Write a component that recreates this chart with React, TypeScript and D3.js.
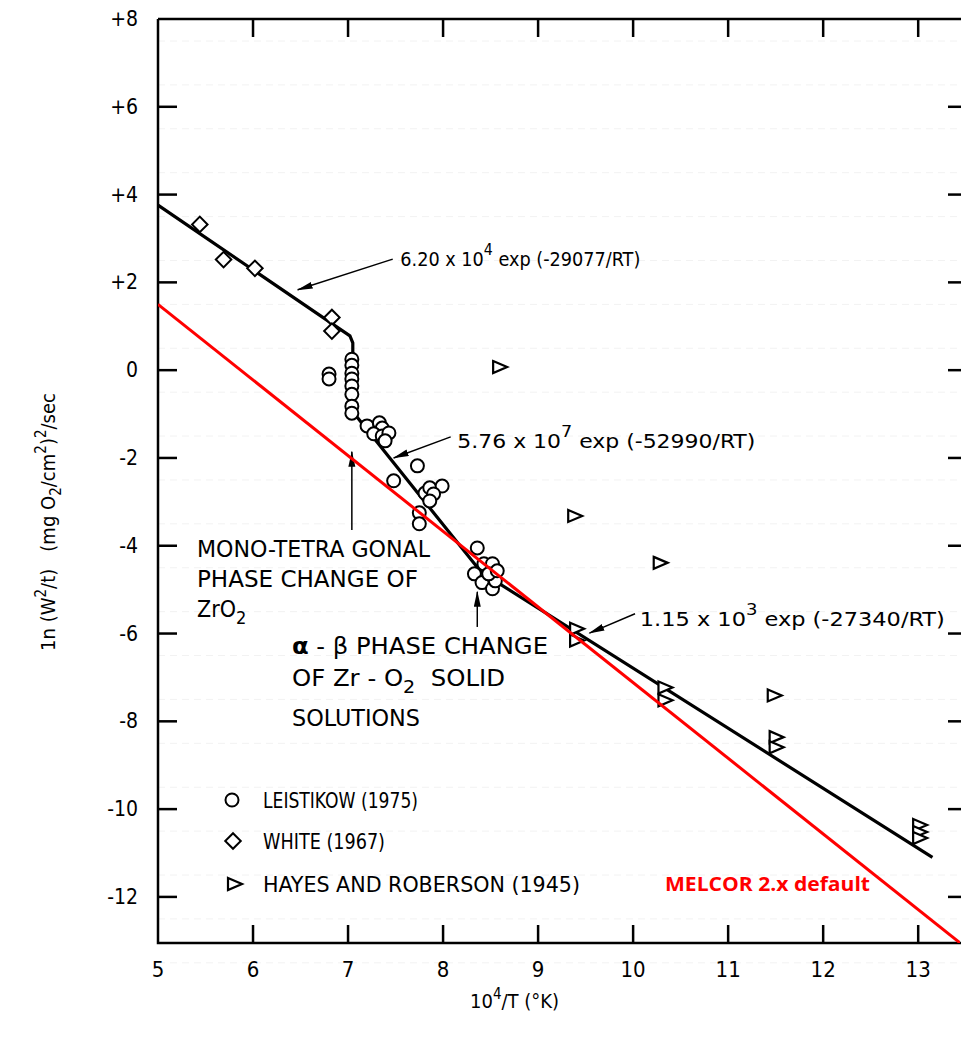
import React from 'react';
import * as d3 from 'd3';

// Leistikow (1975) - circles
const leistikowX = [6.8, 6.8, 7.04, 7.04, 7.04, 7.04, 7.04, 7.04, 7.04, 7.04,
  7.2, 7.33, 7.36, 7.27, 7.36, 7.43, 7.39, 7.73, 7.48, 7.81, 7.86, 7.99, 7.9, 7.86, 7.75, 7.75,
  8.36, 8.33, 8.43, 8.52, 8.41, 8.52, 8.55, 8.48, 8.57];
const leistikowY = [-0.09, -0.2, 0.25, 0.11, -0.07, -0.2, -0.36, -0.55, -0.82, -0.98,
  -1.27, -1.2, -1.32, -1.45, -1.5, -1.43, -1.61, -2.18, -2.52, -2.8, -2.68, -2.64, -2.82, -2.98, -3.25, -3.5,
  -4.05, -4.64, -4.41, -4.41, -4.84, -4.98, -4.8, -4.64, -4.57];

// White (1967) - diamonds
const whiteX = [5.44, 5.69, 6.02, 6.83, 6.83];
const whiteY = [3.32, 2.52, 2.32, 1.2, 0.89];

// Hayes and Roberson (1945) - triangles
const hayesX = [8.59, 9.38, 10.28, 9.4, 9.4, 10.33, 10.33, 11.48, 11.5, 11.5, 13.01, 13.01, 13.01];
const hayesY = [0.07, -3.32, -4.39, -5.89, -6.16, -7.23, -7.52, -7.41, -8.36, -8.59, -10.36, -10.52, -10.66];

// fitted correlation (black polyline) and MELCOR default (red)
const fitX = [5.0, 7.02, 7.05, 7.05, 8.4, 13.15];
const fitY = [3.76, 0.78, 0.62, -0.95, -4.6, -11.1];
const melcorX = [5.0, 13.5];
const melcorY = [1.5, -13.15];

const xTicks = [5, 6, 7, 8, 9, 10, 11, 12, 13];
const yTicks = [8, 6, 4, 2, 0, -2, -4, -6, -8, -10, -12];
const yTickLabels = ['+8', '+6', '+4', '+2', '0', '-2', '-4', '-6', '-8', '-10', '-12'];

const FONT = "'Liberation Sans Narrow', 'DejaVu Sans Condensed', 'DejaVu Sans', sans-serif";

const App = () => {
  const width = 961;
  const height = 1037;
  const left = 158, right = 960, top = 19, bottom = 943;

  const x = d3.scaleLinear().domain([5, 13.44]).range([left, right]);
  const y = d3.scaleLinear().domain([-13.05, 8]).range([bottom, top]);

  const line = d3.line<[number, number]>().x(d => x(d[0])).y(d => y(d[1]));
  const fitPts = fitX.map((v, i) => [v, fitY[i]] as [number, number]);
  const melcorPts = melcorX.map((v, i) => [v, melcorY[i]] as [number, number]);

  const diamond = d3.symbol(d3.symbolSquare, 120)();
  const tri = 'M-6,-6L8,0L-6,6Z';

  const grid = d3.range(-13, 9, 1);
  const fit = { lengthAdjust: 'spacingAndGlyphs' as const };

  return (
    <svg width={width} height={height} style={{ position: 'absolute', left: 0, top: 0, background: '#fff' }}
      fontFamily={FONT}>
      <defs>
        <clipPath id="plot-clip">
          <rect x={left} y={top} width={right - left} height={bottom - top} />
        </clipPath>
        <marker id="arrow" markerUnits="userSpaceOnUse" markerWidth="16" markerHeight="8"
          refX="15" refY="3.5" orient="auto">
          <path d="M0,0 L16,3.5 L0,7 Z" fill="#000" />
        </marker>
      </defs>

      {/* faint scan grid */}
      {grid.map(g => (
        <line key={'g' + g} x1={left} x2={right} y1={y(g) + 22} y2={y(g) + 22}
          stroke="#f2f2f2" strokeDasharray="7,5" />
      ))}

      {/* frame */}
      <path d={`M${left},${top} L${right + 2},${top} M${left},${top} L${left},${bottom} L${right + 2},${bottom}`}
        fill="none" stroke="#000" strokeWidth={2.5} />
      {xTicks.filter(t => t > 5).map(t => (
        <g key={'xt' + t}>
          <line x1={x(t)} x2={x(t)} y1={bottom} y2={bottom - 18} stroke="#000" strokeWidth={2.5} />
          <line x1={x(t)} x2={x(t)} y1={top} y2={top + 18} stroke="#000" strokeWidth={2.5} />
        </g>
      ))}
      {yTicks.filter(t => t < 8).map(t => (
        <g key={'yt' + t}>
          <line x1={left} x2={left + 19} y1={y(t)} y2={y(t)} stroke="#000" strokeWidth={2.5} />
          <line x1={right - 12} x2={right + 2} y1={y(t)} y2={y(t)} stroke="#000" strokeWidth={2.5} />
        </g>
      ))}

      {/* tick labels */}
      {xTicks.map(t => (
        <text key={'xl' + t} x={x(t)} y={977} textAnchor="middle" fontSize={22}>{t}</text>
      ))}
      {yTicks.map((t, i) => (
        <text key={'yl' + t} x={138} y={y(t) + 7} textAnchor="end" fontSize={21}>{yTickLabels[i]}</text>
      ))}

      {/* axis titles */}
      <text x={470} y={1008} fontSize={20}>
        10<tspan dy={-9} fontSize={15}>4</tspan><tspan dy={9}>/T (°K)</tspan>
      </text>
      <text transform="translate(55,522) rotate(-90)" textAnchor="middle" fontSize={20}>
        1n (W<tspan dy={-9} fontSize={15}>2</tspan><tspan dy={9}>/t)</tspan>
        <tspan>{'\u00a0\u00a0\u00a0'}(mg O</tspan><tspan dy={6} fontSize={15}>2</tspan>
        <tspan dy={-6}>/cm</tspan><tspan dy={-9} fontSize={15}>2</tspan><tspan dy={9}>)</tspan>
        <tspan dy={-9} fontSize={15}>2</tspan><tspan dy={9}>/sec</tspan>
      </text>

      {/* fitted correlation */}
      <path d={line(fitPts) || ''} fill="none" stroke="#000" strokeWidth={3.2} strokeLinejoin="round" />

      {/* data markers */}
      {whiteX.map((v, i) => (
        <path key={'w' + i} d={diamond} transform={`translate(${x(v)},${y(whiteY[i])}) rotate(45)`}
          fill="#fff" stroke="#000" strokeWidth={2} />
      ))}
      {leistikowX.map((v, i) => (
        <circle key={'l' + i} cx={x(v)} cy={y(leistikowY[i])} r={6.5} fill="#fff" stroke="#000" strokeWidth={2} />
      ))}
      {hayesX.map((v, i) => (
        <path key={'h' + i} d={tri} transform={`translate(${x(v)},${y(hayesY[i])})`}
          fill="#fff" stroke="#000" strokeWidth={2.2} strokeLinejoin="miter" />
      ))}

      {/* annotations */}
      <line x1={x(7.47)} y1={y(2.53)} x2={x(6.47)} y2={y(1.83)} stroke="#000" strokeWidth={1.5} markerEnd="url(#arrow)" />
      <text x={x(7.55)} y={y(2.37)} fontSize={20} textLength={240} {...fit}>
        6.20 x 10<tspan dy={-11} fontSize={16}>4</tspan><tspan dy={11}> exp (-29077/RT)</tspan>
      </text>
      <line x1={x(8.08)} y1={y(-1.52)} x2={x(7.48)} y2={y(-2.0)} stroke="#000" strokeWidth={1.5} markerEnd="url(#arrow)" />
      <text x={x(8.15)} y={y(-1.77)} fontSize={20} textLength={298} {...fit}>
        5.76 x 10<tspan dy={-11} fontSize={16}>7</tspan><tspan dy={11}> exp (-52990/RT)</tspan>
      </text>
      <line x1={x(10.02)} y1={y(-5.55)} x2={x(9.54)} y2={y(-5.99)} stroke="#000" strokeWidth={1.5} markerEnd="url(#arrow)" />
      <text x={x(10.07)} y={y(-5.83)} fontSize={20} textLength={305} {...fit}>
        1.15 x 10<tspan dy={-11} fontSize={16}>3</tspan><tspan dy={11}> exp (-27340/RT)</tspan>
      </text>

      <line x1={x(7.04)} y1={y(-3.64)} x2={x(7.04)} y2={y(-1.86)} stroke="#000" strokeWidth={1.5} markerEnd="url(#arrow)" />
      <text x={x(5.41)} y={y(-4.26)} fontSize={23} textLength={233} {...fit}>MONO-TETRA GONAL</text>
      <text x={x(5.41)} y={y(-4.94)} fontSize={23} textLength={221} {...fit}>PHASE CHANGE OF</text>
      <text x={x(5.41)} y={y(-5.62)} fontSize={23}>
        ZrO<tspan dy={7} fontSize={18}>2</tspan>
      </text>

      <line x1={x(8.36)} y1={y(-5.85)} x2={x(8.36)} y2={y(-5.05)} stroke="#000" strokeWidth={1.5} markerEnd="url(#arrow)" />
      <text x={x(6.41)} y={y(-6.46)} fontSize={23} textLength={256} {...fit}>
        <tspan fontWeight="bold">α</tspan> - β PHASE CHANGE
      </text>
      <text x={x(6.41)} y={y(-7.19)} fontSize={23} textLength={213} {...fit}>
        OF Zr - O<tspan dy={7} fontSize={18}>2</tspan><tspan dy={-7}>{'\u00a0\u00a0'}SOLID</tspan>
      </text>
      <text x={x(6.41)} y={y(-8.1)} fontSize={23} textLength={128} {...fit}>SOLUTIONS</text>

      {/* legend */}
      <circle cx={232} cy={800} r={6.5} fill="#fff" stroke="#000" strokeWidth={2} />
      <text x={263} y={808} fontSize={21} textLength={155} {...fit}>LEISTIKOW (1975)</text>
      <path d={diamond} transform="translate(233,841) rotate(45)" fill="#fff" stroke="#000" strokeWidth={2} />
      <text x={263} y={849} fontSize={21} textLength={122} {...fit}>WHITE (1967)</text>
      <path d={tri} transform="translate(234,884)" fill="#fff" stroke="#000" strokeWidth={2.2} />
      <text x={263} y={892} fontSize={21} textLength={317} {...fit}>HAYES AND ROBERSON (1945)</text>

      {/* MELCOR default */}
      <path d={line(melcorPts) || ''} fill="none" stroke="#ff0000" strokeWidth={3} clipPath="url(#plot-clip)" />
      <text x={665} y={891} fontSize={19} fontWeight="bold" fill="#ff0000" textLength={205} {...fit}
        fontFamily="'Open Sans', 'Noto Sans', sans-serif">MELCOR 2.x default</text>
    </svg>
  );
};

export default App;
